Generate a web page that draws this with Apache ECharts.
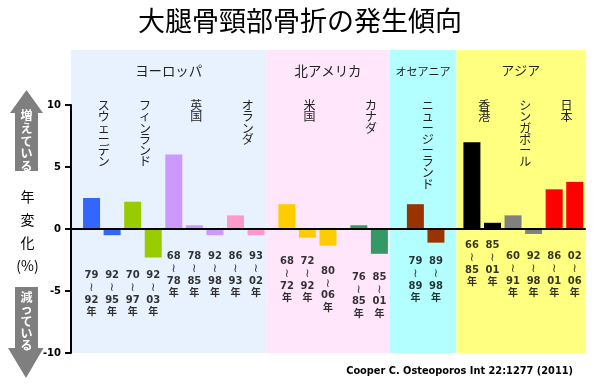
<!DOCTYPE html>
<html>
<head>
<meta charset="utf-8">
<script src="https://cdn.jsdelivr.net/npm/echarts@6/dist/echarts.min.js"></script>
<style>
html,body{margin:0;padding:0;background:#fff;}
#chart{width:600px;height:391px;}
</style>
</head>
<body>
<div id="chart"></div>
<script>
// ---------------- DATA ----------------
const chartTitle = '大腿骨頸部骨折の発生傾向';
const regionNames = ['ヨーロッパ', '北アメリカ', 'オセアニア', 'アジア'];
const countryNames = ['スウェーデン', 'フィンランド', '英国', 'オランダ', '米国', 'カナダ', 'ニュージーランド', '香港', 'シンガポール', '日本'];
const countryRegion = [0, 0, 0, 0, 1, 1, 2, 3, 3, 3];
const barCountry = [0, 0, 1, 1, 2, 2, 2, 3, 3, 4, 4, 4, 5, 5, 6, 6, 7, 7, 8, 8, 9, 9];
const periodFrom = ['79', '92', '70', '92', '68', '78', '92', '86', '93', '68', '72', '80', '76', '85', '79', '89', '66', '85', '60', '92', '86', '02'];
const periodTo   = ['92', '95', '97', '03', '78', '85', '98', '93', '02', '72', '92', '06', '85', '01', '89', '98', '85', '01', '91', '98', '01', '06'];
const annualChange = [2.5, -0.5, 2.2, -2.3, 6.0, 0.3, -0.5, 1.1, -0.5, 2.0, -0.7, -1.35, 0.3, -2.0, 2.0, -1.1, 7.0, 0.5, 1.1, -0.4, 3.2, 3.8];
const yAxisMin = -10, yAxisMax = 10, yAxisStep = 5;
const axisCaption = '年\n変\n化\n(%)';
const upCaption = '増えている';
const downCaption = '減っている';
const sourceNote = 'Cooper C. Osteoporos Int 22:1277 (2011)';

// ---------------- LAYOUT / STYLE ----------------
const TOTAL_CELLS = 100;          // fine category grid
const FIRST_CELL = 4, BAR_STEP = 4;
const extraGapBeforeCountry = [0, 0, 0, 0, 2, 2, 3, 3, 0, 0];
const regionEdges = [0, 38, 62, 75, 100];
const regionColors = ['#e8f1fe', '#ffe6fb', '#b3ffff', '#ffff80'];
const regionFont = [13.4, 13.4, 11, 13];
const countryColors = ['#3366ff', '#99cc00', '#cc99ff', '#ff99cc', '#ffcc00', '#339966', '#993300', '#000000', '#808080', '#ff0000'];
const labelLevel = [-3.28, -3.28, -3.28, -3.28, -1.75, -1.75, -1.75, -1.75, -1.75, -2.15, -2.15, -2.93, -3.41, -3.41, -2.15, -2.15, -0.86, -0.86, -1.75, -1.75, -1.75, -1.75];

// bar positions on the fine grid
const barCell = [];
(function () {
  let p = FIRST_CELL;
  for (let i = 0; i < barCountry.length; i++) {
    if (i > 0) {
      p += BAR_STEP;
      if (barCountry[i] !== barCountry[i - 1]) p += extraGapBeforeCountry[barCountry[i]];
    }
    barCell.push(p);
  }
})();

const cats = [];
for (let k = 0; k <= TOTAL_CELLS; k++) cats.push('c' + k);

const barData = cats.map(() => '-');
barCell.forEach((c, i) => {
  barData[c] = { value: annualChange[i], itemStyle: { color: countryColors[barCountry[i]] } };
});

const labelData = barCell.map((c, i) => [c, labelLevel[i]]);

const regionAreas = regionNames.map((n, r) => [
  { xAxis: regionEdges[r], name: n,
    itemStyle: { color: regionColors[r] },
    label: { fontSize: regionFont[r], distance: r === 2 ? 16 : 14 } },
  { xAxis: regionEdges[r + 1] }
]);

const countryAreas = countryNames.map((n, ci) => {
  const cells = barCell.filter((c, i) => barCountry[i] === ci);
  return [
    { xAxis: cells[0], name: n.split('').join('\n') },
    { xAxis: cells[cells.length - 1] }
  ];
});

const JP = '"Noto Sans CJK JP", sans-serif';
const NUMF = '"DejaVu Sans", "Noto Sans CJK JP", sans-serif';

const chart = echarts.init(document.getElementById('chart'), null, { renderer: 'canvas' });
chart.setOption({
  animation: false,
  backgroundColor: '#ffffff',
  title: {
    text: chartTitle, left: 'center', top: 7, padding: 0,
    textStyle: { fontSize: 27, fontWeight: 'normal', fontFamily: JP, color: '#000' }
  },
  grid: [
    { left: 71, right: 15, top: 105, bottom: 38 },
    { left: 71, right: 15, top: 50, bottom: 38 }
  ],
  xAxis: [
    { type: 'category', gridIndex: 0, data: cats, boundaryGap: false, z: 10,
      axisLine: { onZero: true, lineStyle: { color: '#000', width: 2 } },
      axisTick: { show: false }, axisLabel: { show: false }, splitLine: { show: false } },
    { type: 'category', gridIndex: 1, data: cats, boundaryGap: false, show: false }
  ],
  yAxis: [
    { type: 'value', gridIndex: 0, min: yAxisMin, max: yAxisMax, interval: yAxisStep, z: 10,
      axisLine: { show: true, lineStyle: { color: '#000', width: 2 } },
      axisTick: { show: true, length: 6, lineStyle: { color: '#000', width: 2 } },
      axisLabel: { fontFamily: NUMF, fontWeight: 'bold', fontSize: 10, color: '#000', margin: 10 },
      splitLine: { show: false } },
    { type: 'value', gridIndex: 1, min: 0, max: 1, show: false }
  ],
  series: [
    { type: 'line', xAxisIndex: 1, yAxisIndex: 1, data: [], z: 1, silent: true,
      markArea: { silent: true, data: regionAreas,
        label: { show: true, position: 'insideTop', color: '#222', fontFamily: JP } } },
    { type: 'line', xAxisIndex: 1, yAxisIndex: 1, data: [], z: 2, silent: true,
      markArea: { silent: true, data: countryAreas,
        itemStyle: { color: 'rgba(0,0,0,0)' },
        label: { show: true, position: 'insideTop', distance: 50, color: '#222', fontFamily: JP,
          fontSize: 12, lineHeight: 11.2, align: 'center', offset: [2, 0] } } },
    { type: 'bar', xAxisIndex: 0, yAxisIndex: 0, data: barData, barWidth: 17, z: 5 },
    { type: 'scatter', xAxisIndex: 0, yAxisIndex: 0, data: labelData, symbolSize: 0, z: 6,
      label: { show: true, position: 'bottom', distance: 0, fontFamily: NUMF, fontWeight: 'bold',
        fontSize: 10, lineHeight: 12.2, color: '#000', align: 'center',
        rich: { w: { fontFamily: '"DejaVu Sans"', fontWeight: 'normal', fontSize: 12, lineHeight: 12.2, color: '#000' } },
        formatter: p => periodFrom[p.dataIndex] + '\n{w|≀}\n' + periodTo[p.dataIndex] + '\n年' } }
  ],
  graphic: [
    { type: 'polygon', shape: { points: [[26.5, 90], [43, 113], [38, 113], [38, 171], [15, 171], [15, 113], [10, 113]] },
      style: { fill: '#7f7f7f' }, z: 1 },
    { type: 'text', x: 26.5, y: 109, z: 2,
      style: { text: upCaption.split('').join('\n'), fill: '#fff', font: 'bold 12px ' + JP, lineHeight: 12.8, align: 'center', verticalAlign: 'top' } },
    { type: 'polygon', shape: { points: [[15, 287], [38, 287], [38, 348], [43.5, 348], [26, 378], [8, 348], [15, 348]] },
      style: { fill: '#7f7f7f' }, z: 1 },
    { type: 'text', x: 26.5, y: 291, z: 2,
      style: { text: downCaption.split('').join('\n'), fill: '#fff', font: 'bold 12px ' + JP, lineHeight: 12, align: 'center', verticalAlign: 'top' } },
    { type: 'text', x: 27.5, y: 185.5,
      style: { text: axisCaption, fill: '#000', font: '14px ' + JP, lineHeight: 23, align: 'center', verticalAlign: 'top' } },
    { type: 'text', x: 573, y: 371,
      style: { text: sourceNote, fill: '#000', font: 'bold 9.8px "DejaVu Sans", sans-serif', align: 'right', verticalAlign: 'middle' } }
  ]
});
</script>
</body>
</html>
